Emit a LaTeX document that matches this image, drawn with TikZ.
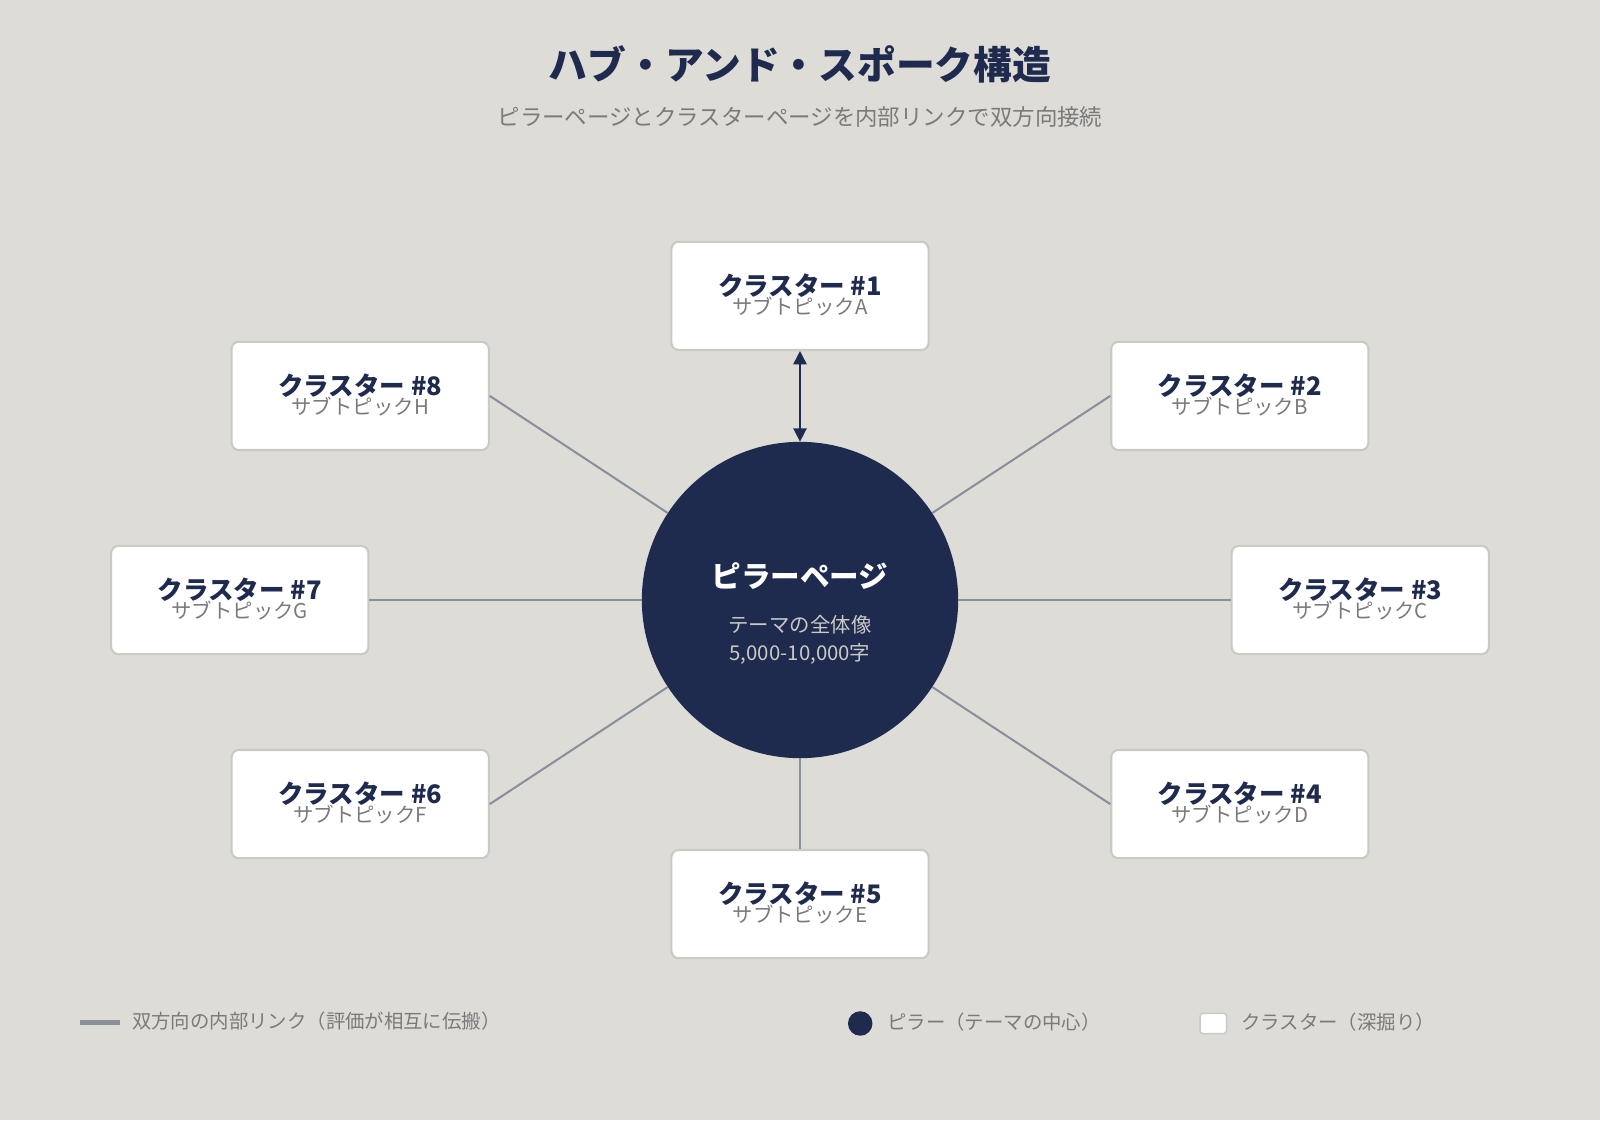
\documentclass[tikz,border=0pt]{standalone}
\usepackage{fontspec}
\setmainfont{Noto Sans CJK JP}
\usetikzlibrary{arrows.meta}
\definecolor{bg}{HTML}{DDDCD7}
\definecolor{navy}{HTML}{1E2A4E}
\definecolor{lgrey}{HTML}{8A8F99}
\definecolor{bord}{HTML}{C9C9C5}
\definecolor{tgrey}{HTML}{7A7A7A}
\tikzset{
 cbox/.style={draw=bord,line width=2pt,fill=white,rounded corners=7pt,minimum width=252pt,minimum height=106pt,inner sep=0pt},
 link/.style={draw=lgrey,line width=2pt},
}
\newcommand{\cl}[2]{\begin{tabular}{c}{\fontsize{25pt}{30pt}\selectfont\bfseries\color{navy}クラスター #1}\\[-2pt]{\fontsize{20pt}{26pt}\selectfont\color{tgrey}サブトピック#2}\end{tabular}}
\begin{document}
\begin{tikzpicture}[x=1pt,y=-1pt]
\fill[bg] (0,0) rectangle (1568,1098);
\useasboundingbox (0,0) rectangle (1568,1098);
\node[text=navy,font=\fontsize{38pt}{44pt}\selectfont\bfseries] (t) at (784,63) {ハブ・アンド・スポーク構造};
\node[text=tgrey,font=\fontsize{22pt}{26pt}\selectfont] (st) at (784,115) {ピラーページとクラスターページを内部リンクで双方向接続};
\node[circle,fill=navy,minimum size=310pt,inner sep=0pt,align=center] (c) at (784,588) {};
\node[text=white,font=\fontsize{29pt}{34pt}\selectfont\bfseries] (ct) at (784,565) {ピラーページ};
\node[text=bord,font=\fontsize{20pt}{24pt}\selectfont,align=center] (cs) at (784,627) {テーマの全体像\\[4pt]5,000-10,000字};
\node[cbox] (b1) at (784,290) {\cl{\#1}{A}};
\node[cbox] (b2) at (1215,388) {\cl{\#2}{B}};
\node[cbox] (b3) at (1333,588) {\cl{\#3}{C}};
\node[cbox] (b4) at (1215,788) {\cl{\#4}{D}};
\node[cbox] (b5) at (784,886) {\cl{\#5}{E}};
\node[cbox] (b6) at (353,788) {\cl{\#6}{F}};
\node[cbox] (b7) at (235,588) {\cl{\#7}{G}};
\node[cbox] (b8) at (353,388) {\cl{\#8}{H}};
\begin{scope}[on background layer/.style={}]
\draw[draw=navy,line width=1.5pt,{Triangle[length=13pt,width=13pt]}-{Triangle[length=13pt,width=13pt]}] (c) -- (b1);
\draw[link] (c) -- (b2.west);
\draw[link] (c) -- (b3.west);
\draw[link] (c) -- (b4.west);
\draw[link] (c) -- (b5);
\draw[link] (c) -- (b6.east);
\draw[link] (c) -- (b7.east);
\draw[link] (c) -- (b8.east);
\end{scope}
% legend
\coordinate (l1) at (78,1002); \coordinate (l2) at (118,1002);
\draw[lgrey,line width=4pt] (l1) -- (l2);
\node[anchor=west,text=tgrey,font=\fontsize{19pt}{22pt}\selectfont] (lt1) at (126,1001) {双方向の内部リンク（評価が相互に伝搬）};
\node[circle,fill=navy,minimum size=24pt,inner sep=0pt] (ld) at (843,1003) {};
\node[anchor=west,text=tgrey,font=\fontsize{19pt}{22pt}\selectfont] (lt2) at (866,1002) {ピラー（テーマの中心）};
\node[draw=bord,line width=1.5pt,fill=white,rounded corners=3pt,minimum width=26pt,minimum height=20pt,inner sep=0pt] (lb) at (1189,1003) {};
\node[anchor=west,text=tgrey,font=\fontsize{19pt}{22pt}\selectfont] (lt3) at (1213,1002) {クラスター（深掘り）};
\end{tikzpicture}
\end{document}
